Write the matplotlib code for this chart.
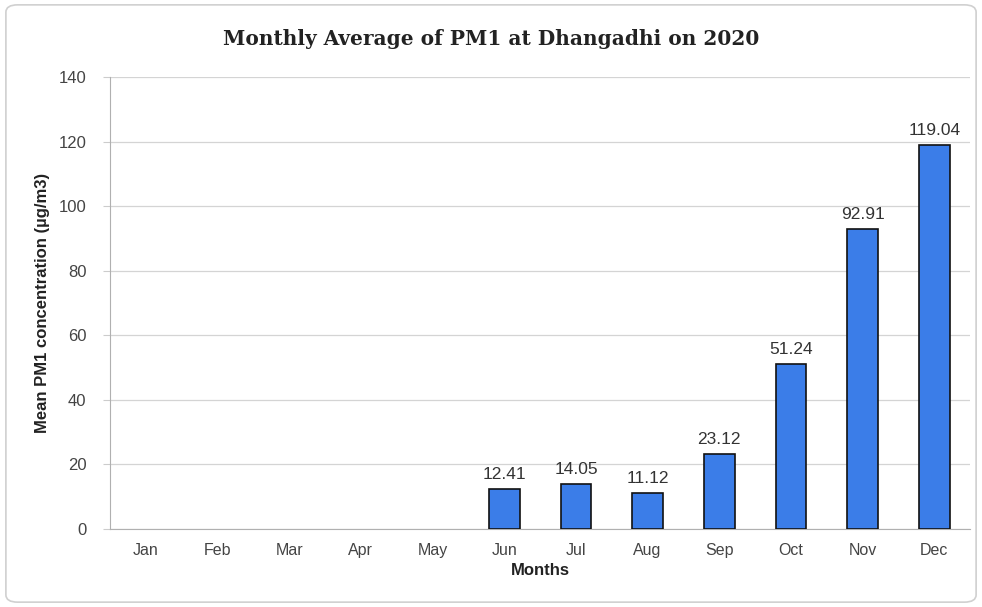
import matplotlib.pyplot as plt
from matplotlib.patches import FancyBboxPatch

months = ["Jan", "Feb", "Mar", "Apr", "May", "Jun", "Jul", "Aug", "Sep", "Oct", "Nov", "Dec"]
pm1 = [0, 0, 0, 0, 0, 12.41, 14.05, 11.12, 23.12, 51.24, 92.91, 119.04]
labels = [None, None, None, None, None, "12.41", "14.05", "11.12", "23.12", "51.24", "92.91", "119.04"]
yticks = [0, 20, 40, 60, 80, 100, 120, 140]

plt.rcParams['font.family'] = ['Liberation Sans', 'DejaVu Sans']

fig = plt.figure(figsize=(9.82, 6.07), dpi=100)
fig.patches.append(FancyBboxPatch((0.006, 0.008), 0.988, 0.984,
                                  boxstyle="round,pad=0,rounding_size=0.012",
                                  transform=fig.transFigure, fill=False,
                                  edgecolor="#d0d0d0", linewidth=1.2))

ax = fig.add_axes([0.112, 0.1285, 0.876, 0.7445])
x = list(range(len(months)))
ax.bar([i for i, v in zip(x, pm1) if v], [v for v in pm1 if v],
       width=0.43, color="#3b7de8", edgecolor="#111111", linewidth=1.2, zorder=3)

for i, (v, lab) in enumerate(zip(pm1, labels)):
    if lab:
        ax.annotate(lab, (i, v), xytext=(0, 5), textcoords="offset points",
                    ha="center", va="bottom", fontsize=12.5, color="#333333")

ax.set_xlim(-0.5, 11.5)
ax.set_ylim(0, 140)
ax.set_xticks(x)
ax.set_xticklabels(months, fontsize=11.5, color="#444444")
ax.set_yticks(yticks)
ax.set_yticklabels([str(t) for t in yticks], fontsize=12, color="#444444")
ax.tick_params(axis="x", length=0, pad=10)
ax.tick_params(axis="y", length=5, color="#cccccc", pad=12)
ax.grid(axis="y", color="#d4d4d4", linewidth=0.9, zorder=0)
for side in ["top", "right"]:
    ax.spines[side].set_visible(False)
ax.spines["left"].set_color("#b0b0b0")
ax.spines["bottom"].set_color("#b0b0b0")

ax.set_xlabel("Months", fontsize=12, fontweight="bold", color="#222222", labelpad=4)
ax.set_ylabel("Mean PM1 concentration (\u00b5g/m3)", fontsize=12, fontweight="bold",
              color="#222222", labelpad=6)
fig.text(0.5, 0.935, "Monthly Average of PM1 at Dhangadhi on 2020",
         ha="center", va="center", fontsize=14.5, fontweight="bold",
         family=["DejaVu Serif"], color="#222222")

plt.savefig("out.png", dpi=100)
